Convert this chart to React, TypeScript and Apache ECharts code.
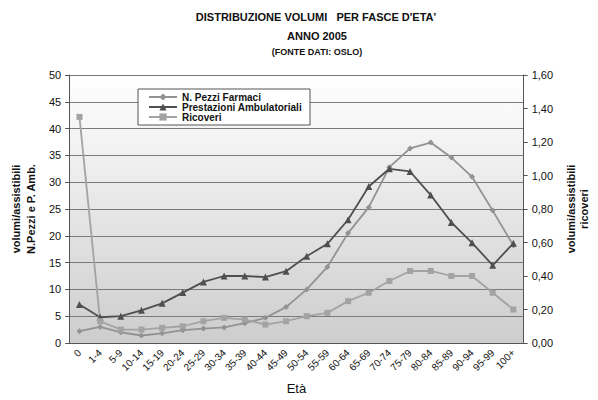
import React, { useEffect, useRef } from "react";
import * as echarts from "echarts";

const categories = ["0", "1-4", "5-9", "10-14", "15-19", "20-24", "25-29", "30-34", "35-39", "40-44", "45-49", "50-54", "55-59", "60-64", "65-69", "70-74", "75-79", "80-84", "85-89", "90-94", "95-99", "100+"];
const farmaci = [2.2, 3.0, 2.0, 1.4, 1.8, 2.4, 2.7, 2.9, 3.7, 4.7, 6.7, 10.0, 14.2, 20.5, 25.3, 32.8, 36.3, 37.4, 34.6, 31.0, 24.7, 18.2];
const prestazioni = [7.2, 4.8, 5.0, 6.1, 7.4, 9.4, 11.4, 12.5, 12.5, 12.3, 13.4, 16.2, 18.5, 23.0, 29.2, 32.5, 32.0, 27.6, 22.5, 18.7, 14.5, 18.6];
const ricoveri = [1.35, 0.13, 0.08, 0.08, 0.09, 0.10, 0.13, 0.15, 0.14, 0.11, 0.13, 0.16, 0.18, 0.25, 0.30, 0.37, 0.43, 0.43, 0.40, 0.40, 0.30, 0.20];

const FONT = "'Liberation Sans', Arial, sans-serif";

export default function App() {
  const ref = useRef<HTMLDivElement>(null);
  useEffect(() => {
    if (!ref.current) return;
    document.body.style.margin = "0";
    const chart = echarts.init(ref.current, null, { renderer: "svg" });
    chart.setOption({
      animation: false,
      backgroundColor: "#ffffff",
      textStyle: { fontFamily: FONT },
      graphic: [
        { type: "text", x: 316, y: 11, style: { text: "DISTRIBUZIONE VOLUMI   PER FASCE D'ETA'", textAlign: "center", font: `bold 11px ${FONT}`, fill: "#111" } },
        { type: "text", x: 317, y: 30, style: { text: "ANNO 2005", textAlign: "center", font: `bold 11px ${FONT}`, fill: "#111" } },
        { type: "text", x: 317, y: 47, style: { text: "(FONTE DATI: OSLO)", textAlign: "center", font: `bold 9px ${FONT}`, fill: "#111" } },
      ],
      legend: {
        orient: "vertical",
        left: 138,
        top: 89,
        backgroundColor: "#ffffff",
        borderColor: "#555",
        borderWidth: 1,
        borderRadius: 0,
        padding: [3, 8, 3, 10],
        itemGap: 0,
        itemWidth: 28,
        itemHeight: 9,
        textStyle: { fontSize: 10, fontWeight: "bold", color: "#111", fontFamily: FONT },
        data: ["N. Pezzi Farmaci", "Prestazioni Ambulatoriali", "Ricoveri"],
      },
      grid: {
        left: 65,
        right: 66,
        top: 75,
        bottom: 57,
        show: true,
        borderWidth: 0,
        backgroundColor: new echarts.graphic.LinearGradient(0, 0, 0, 1, [
          { offset: 0, color: "#ffffff" },
          { offset: 1, color: "#cdcdcd" },
        ]),
      },
      xAxis: {
        type: "category",
        data: categories,
        boundaryGap: true,
        name: "Età",
        nameLocation: "middle",
        nameGap: 39,
        nameTextStyle: { fontSize: 13, color: "#111", fontFamily: FONT },
        axisLine: { lineStyle: { color: "#555" } },
        axisTick: { interval: 0, alignWithLabel: false, length: 4, lineStyle: { color: "#555" } },
        axisLabel: { interval: 0, rotate: 45, fontSize: 10, color: "#111", margin: 8, fontFamily: FONT },
      },
      yAxis: [
        {
          type: "value",
          min: 0,
          max: 50,
          interval: 5,
          position: "left",
          name: "volumi/assistibili\nN.Pezzi e P. Amb.",
          nameLocation: "middle",
          nameRotate: 90,
          nameGap: 26,
          nameTextStyle: { fontSize: 11, fontWeight: "bold", color: "#111", lineHeight: 15, fontFamily: FONT },
          axisLine: { show: true, lineStyle: { color: "#555" } },
          axisTick: { show: true, length: 4, lineStyle: { color: "#555" } },
          axisLabel: { fontSize: 11, color: "#111", margin: 8, fontFamily: FONT },
          splitLine: { show: true, lineStyle: { color: "#7a7a7a", width: 1 } },
        },
        {
          type: "value",
          min: 0,
          max: 1.6,
          interval: 0.2,
          position: "right",
          name: "volumi/assistibili\nricoveri",
          nameLocation: "middle",
          nameRotate: 90,
          nameGap: 37,
          nameTextStyle: { fontSize: 11, fontWeight: "bold", color: "#111", lineHeight: 13, fontFamily: FONT },
          axisLine: { show: true, lineStyle: { color: "#555" } },
          axisTick: { show: true, length: 4, lineStyle: { color: "#555" } },
          axisLabel: {
            fontSize: 11,
            color: "#111",
            margin: 8,
            fontFamily: FONT,
            formatter: (v: number) => v.toFixed(2).replace(".", ","),
          },
          splitLine: { show: false },
        },
      ],
      series: [
        {
          name: "N. Pezzi Farmaci",
          type: "line",
          yAxisIndex: 0,
          data: farmaci,
          symbol: "diamond",
          symbolSize: 6,
          color: "#929292",
          lineStyle: { width: 1.8, color: "#929292" },
          itemStyle: { color: "#929292" },
        },
        {
          name: "Prestazioni Ambulatoriali",
          type: "line",
          yAxisIndex: 0,
          data: prestazioni,
          symbol: "triangle",
          symbolSize: 7,
          color: "#4f4f4f",
          lineStyle: { width: 1.8, color: "#4f4f4f" },
          itemStyle: { color: "#4f4f4f" },
        },
        {
          name: "Ricoveri",
          type: "line",
          yAxisIndex: 1,
          data: ricoveri,
          symbol: "rect",
          symbolSize: 6,
          color: "#a3a3a3",
          lineStyle: { width: 1.8, color: "#a3a3a3" },
          itemStyle: { color: "#a3a3a3" },
        },
      ],
    });
    return () => chart.dispose();
  }, []);
  return <div ref={ref} style={{ width: 598, height: 400 }} />;
}
